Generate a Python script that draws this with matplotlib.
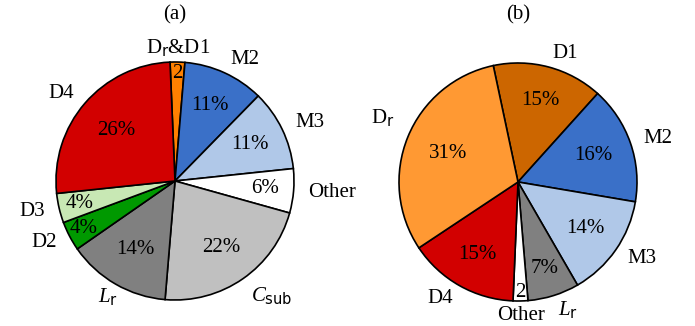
import numpy as np
import matplotlib
matplotlib.use('Agg')
import matplotlib.pyplot as plt

plt.rcParams['font.family'] = ['Liberation Serif', 'DejaVu Sans']
plt.rcParams['mathtext.fontset'] = 'custom'
plt.rcParams['mathtext.rm'] = 'Liberation Serif'
plt.rcParams['mathtext.it'] = 'Liberation Serif:italic'
plt.rcParams['mathtext.sf'] = 'DejaVu Sans'

# (a) shares, clockwise from the top
labels_a = ['D$_\\mathsf{r}$&D1', 'M2', 'M3', 'Other', '$C_\\mathsf{sub}$',
            '$L_\\mathsf{r}$', 'D2', 'D3', 'D4']
values_a = [2, 11, 11, 6, 22, 14, 4, 4, 26]
colors_a = ['#ff8000', '#3a70c8', '#b0c8e8', '#ffffff', '#c0c0c0',
            '#808080', '#009900', '#c8e8b4', '#d20000']
pct_r_a = [0.9, 0.7, 0.7, 0.76, 0.68, 0.66, 0.87, 0.82, 0.65]

# (b) shares
labels_b = ['D1', 'M2', 'M3', '$L_\\mathsf{r}$', 'Other', 'D4', 'D$_\\mathsf{r}$']
values_b = [15, 16, 14, 7, 2, 15, 31]
colors_b = ['#cc6600', '#3a70c8', '#b0c8e8', '#808080', '#ffffff',
            '#d20000', '#ff9933']
pct_r_b = [0.71, 0.67, 0.69, 0.76, 0.93, 0.7, 0.63]

fig = plt.figure(figsize=(6.95, 3.26), dpi=100)
W, H = 695, 326
R = 119
FS = 15


def draw(cx, cy, values, labels, colors, pct_r, start, title, center_lbl):
    ax = fig.add_axes([(cx - R) / W, (H - cy - R) / H, 2 * R / W, 2 * R / H])
    wedges, texts = ax.pie(values, labels=labels, colors=colors, startangle=start,
                           counterclock=False, labeldistance=1.12,
                           wedgeprops=dict(edgecolor='black', linewidth=1.2),
                           textprops=dict(fontsize=FS))
    for i, w in enumerate(wedges):
        ang = np.deg2rad((w.theta1 + w.theta2) / 2)
        v = values[i]
        s = '%d%%' % v if v > 2 else '%d' % v
        ax.text(pct_r[i] * np.cos(ang), pct_r[i] * np.sin(ang), s,
                ha='center', va='center', fontsize=FS)
    for i in center_lbl:
        texts[i].set_ha('center')
    ax.set_xlim(-1, 1)
    ax.set_ylim(-1, 1)
    fig.text(cx / W, 1 - 15 / H, title, ha='center', va='center', fontsize=FS)
    return texts


ta = draw(175, 181, values_a, labels_a, colors_a, pct_r_a, 92.4, '(a)', [0, 5])
tb = draw(518, 182, values_b, labels_b, colors_b, pct_r_b, 102, '(b)', [4])

# lift the D_r label a little
x, y = tb[6].get_position()
tb[6].set_position((x, y + 0.12))
x, y = ta[4].get_position()
ta[4].set_position((x, y - 0.04))

plt.savefig('out.png', dpi=100)
